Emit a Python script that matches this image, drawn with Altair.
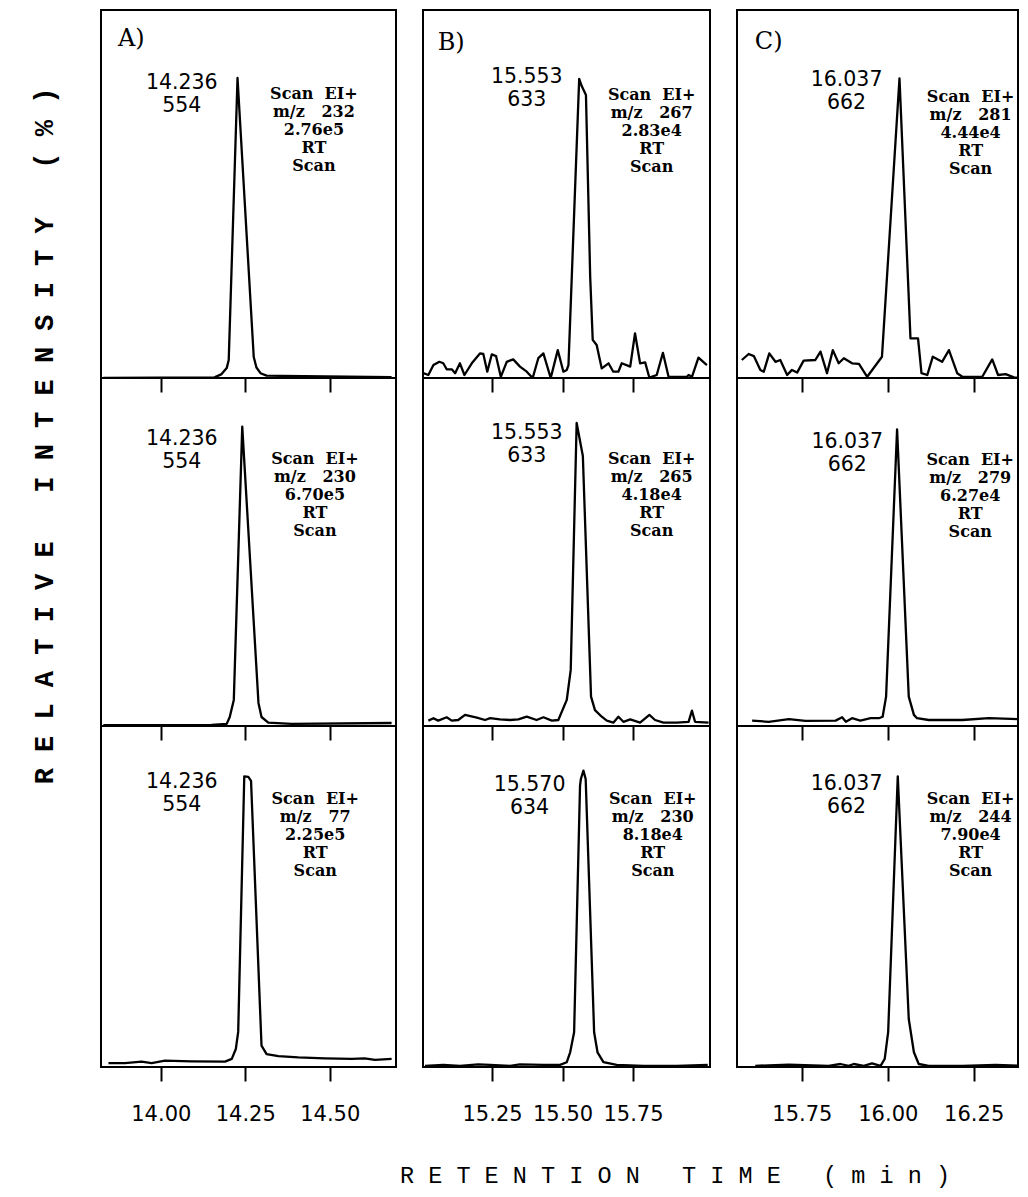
import altair as alt
import pandas as pd

# ---------------- data ----------------
COLUMNS = ["A", "B", "C"]
X_DOMAINS = [[13.823, 14.696], [15.005, 16.023], [15.561, 16.379]]
X_TICKS = [[14.00, 14.25, 14.50], [15.25, 15.50, 15.75], [15.75, 16.00, 16.25]]
PANEL_W = [295, 287, 281]
ROW_H = [368, 348, 341]
ROW_YMAX = [122.67, 116.0, 113.67]

A_top_rt = [13.830, 14.159, 14.180, 14.195, 14.201, 14.227, 14.275, 14.283, 14.295, 14.313, 14.358, 14.683]
A_top_int = [0.0, 0.2, 1.3, 3.3, 6.0, 100.0, 7.0, 3.5, 1.6, 0.8, 0.7, 0.3]
A_mid_rt = [13.830, 14.150, 14.195, 14.204, 14.216, 14.241, 14.289, 14.298, 14.318, 14.387, 14.683]
A_mid_int = [0.3, 0.4, 0.7, 3.0, 8.7, 99.8, 7.7, 3.0, 1.1, 0.7, 1.0]
A_bot_rt = [13.845, 13.894, 13.943, 13.973, 14.012, 14.091, 14.190, 14.210, 14.222, 14.229, 14.247,
            14.259, 14.267, 14.298, 14.313, 14.348, 14.407, 14.485, 14.565, 14.603, 14.634, 14.683]
A_bot_int = [1.3, 1.3, 1.8, 1.3, 2.1, 1.9, 1.8, 2.7, 6.0, 11.7, 96.9,
             96.7, 95.4, 7.1, 4.3, 3.6, 3.2, 2.9, 2.7, 2.9, 2.4, 2.7]

B_top_rt = [15.006, 15.024, 15.042, 15.063, 15.077, 15.089, 15.107, 15.119, 15.136, 15.152,
            15.178, 15.207, 15.219, 15.233, 15.249, 15.264, 15.281, 15.302, 15.325, 15.349,
            15.373, 15.394, 15.414, 15.432, 15.458, 15.483, 15.503, 15.515, 15.521, 15.559,
            15.568, 15.583, 15.598, 15.607, 15.621, 15.639, 15.663, 15.680, 15.698, 15.710,
            15.740, 15.757, 15.775, 15.793, 15.808, 15.834, 15.856, 15.876, 15.941, 15.947,
            15.959, 15.982, 16.012]
B_top_int = [1.6, 1.0, 4.3, 5.4, 4.9, 2.9, 2.9, 1.6, 4.9, 1.0,
             4.9, 8.2, 8.0, 2.1, 7.9, 7.3, 0.4, 5.4, 6.2, 3.8,
             2.1, 0.0, 6.6, 8.2, 0.0, 9.3, 2.1, 2.7, 4.3, 99.7,
             97.3, 94.3, 33.8, 12.7, 11.0, 3.2, 4.9, 2.1, 2.1, 4.9,
             3.8, 14.9, 4.9, 5.2, 0.1, 1.0, 8.4, 0.4, 0.4, 1.0,
             0.4, 6.8, 4.3]
B_mid_rt = [15.024, 15.042, 15.059, 15.089, 15.107, 15.130, 15.154, 15.196, 15.225, 15.243,
            15.278, 15.314, 15.343, 15.373, 15.408, 15.432, 15.462, 15.485, 15.515, 15.529,
            15.550, 15.572, 15.601, 15.615, 15.639, 15.657, 15.680, 15.698, 15.716, 15.740,
            15.775, 15.808, 15.828, 15.858, 15.905, 15.947, 15.959, 15.970, 16.018]
B_mid_int = [1.8, 2.6, 1.8, 2.9, 1.8, 2.0, 3.7, 2.8, 2.0, 2.6,
             2.2, 2.0, 2.2, 3.1, 2.0, 2.9, 1.8, 2.0, 8.7, 18.7,
             101.0, 90.0, 9.8, 5.3, 3.1, 1.8, 1.1, 3.1, 1.4, 2.2,
             1.1, 3.7, 2.0, 1.1, 1.1, 1.4, 5.1, 1.4, 1.1]
B_bot_rt = [15.012, 15.077, 15.136, 15.201, 15.243, 15.314, 15.349, 15.432, 15.491, 15.515,
            15.527, 15.541, 15.562, 15.565, 15.574, 15.582, 15.612, 15.624, 15.645, 15.692,
            15.787, 15.905, 16.015]
B_bot_int = [0.4, 0.7, 0.4, 0.9, 0.7, 0.4, 0.9, 0.7, 0.7, 1.6,
             4.9, 11.6, 93.8, 96.0, 98.8, 96.0, 11.6, 4.9, 1.6, 0.7,
             0.4, 0.4, 0.7]

C_top_rt = [15.575, 15.595, 15.610, 15.629, 15.639, 15.655, 15.673, 15.687, 15.707, 15.721,
            15.736, 15.755, 15.789, 15.804, 15.823, 15.840, 15.857, 15.872, 15.896, 15.916,
            15.940, 15.983, 16.034, 16.066, 16.088, 16.098, 16.115, 16.131, 16.158, 16.178,
            16.202, 16.217, 16.275, 16.304, 16.321, 16.343, 16.367, 16.398]
C_top_int = [6.0, 8.0, 7.3, 2.7, 2.1, 8.2, 5.4, 6.0, 1.0, 2.7,
             1.8, 5.8, 6.0, 8.8, 1.6, 9.3, 4.9, 6.6, 4.9, 4.7,
             0.4, 7.1, 99.9, 13.2, 13.2, 1.6, 1.0, 7.1, 5.4, 9.3,
             1.6, 0.4, 0.4, 6.2, 1.0, 1.3, 0.2, 0.0]
C_mid_rt = [15.605, 15.653, 15.712, 15.760, 15.848, 15.867, 15.878, 15.896, 15.920, 15.950,
            15.974, 15.985, 15.995, 16.027, 16.061, 16.076, 16.085, 16.119, 16.217, 16.294, 16.398]
C_mid_int = [1.8, 1.4, 2.3, 1.7, 1.8, 2.9, 1.4, 2.6, 1.8, 2.6,
             2.6, 3.1, 9.8, 98.9, 9.8, 3.7, 2.6, 2.0, 2.0, 2.6, 2.2]
C_bot_rt = [15.614, 15.712, 15.828, 15.862, 15.886, 15.901, 15.930, 15.954, 15.979, 15.991,
            16.001, 16.029, 16.061, 16.076, 16.090, 16.119, 16.217, 16.314, 16.398]
C_bot_int = [0.4, 0.8, 0.4, 1.0, 0.4, 1.0, 0.4, 1.2, 0.4, 2.7,
             11.6, 96.9, 16.0, 4.9, 1.0, 0.4, 0.4, 0.7, 0.4]

SERIES = [
    [(A_top_rt, A_top_int), (A_mid_rt, A_mid_int), (A_bot_rt, A_bot_int)],
    [(B_top_rt, B_top_int), (B_mid_rt, B_mid_int), (B_bot_rt, B_bot_int)],
    [(C_top_rt, C_top_int), (C_mid_rt, C_mid_int), (C_bot_rt, C_bot_int)],
]

# peak annotation (retention time / scan number); y = centre of first line
PEAK_LABELS = [["14.236\n554", "14.236\n554", "14.236\n554"],
               ["15.553\n633", "15.553\n633", "15.570\n634"],
               ["16.037\n662", "16.037\n662", "16.037\n662"]]
PEAK_LABEL_X = [[14.062, 14.062, 14.062], [15.373, 15.373, 15.383], [15.880, 15.882, 15.880]]
PEAK_LABEL_Y = [[98.3, 95.6, 94.9], [100.2, 97.8, 94.0], [99.3, 94.8, 94.3]]

# acquisition block; y = centre of first line
SCAN_MZ = [["232", "230", "77"], ["267", "265", "230"], ["281", "279", "244"]]
SCAN_TIC = [["2.76e5", "6.70e5", "2.25e5"], ["2.83e4", "4.18e4", "8.18e4"], ["4.44e4", "6.27e4", "7.90e4"]]
SCAN_X = [[14.453, 14.456, 14.457], [15.816, 15.816, 15.820], [16.241, 16.240, 16.241]]
SCAN_Y = [[94.7, 88.9, 89.3], [94.3, 88.9, 89.3], [93.8, 88.7, 89.3]]

LETTERS = ["A)", "B)", "C)"]
LETTER_X = [13.873, 15.057, 15.613]
LETTER_Y = [113.0, 111.7, 112.0]

NB = "\u00a0"
Y_TITLE = (NB * 3).join(NB.join(w) for w in ["RELATIVE", "INTENSITY", "(%)"])
X_TITLE = (NB * 3).join(NB.join(w) for w in ["RETENTION", "TIME", "(min)"])


def panel(c, r):
    rt, inten = SERIES[c][r]
    xscale = alt.Scale(domain=X_DOMAINS[c], nice=False, zero=False)
    yscale = alt.Scale(domain=[0, ROW_YMAX[r]], nice=False, zero=False)
    xaxis = alt.Axis(values=X_TICKS[c], format=".2f", labels=(r == 2), title=None)
    x = alt.X("rt:Q", scale=xscale, axis=xaxis)
    y = alt.Y("intensity:Q", scale=yscale, axis=None)

    line = alt.Chart(pd.DataFrame({"rt": rt, "intensity": inten})).mark_line(
        color="black", strokeWidth=2.3, strokeJoin="round", clip=True
    ).encode(x=x, y=y)

    peak_df = pd.DataFrame({"rt": [PEAK_LABEL_X[c][r]], "intensity": [PEAK_LABEL_Y[c][r]],
                            "label": [PEAK_LABELS[c][r]]})
    peak = alt.Chart(peak_df).mark_text(
        font="DejaVu Sans", fontSize=20.5, lineBreak="\n", lineHeight=23,
        align="center", baseline="middle", color="black"
    ).encode(x=x, y=y, text="label:N")

    scan_txt = "\n".join(["Scan" + NB + NB + "EI+", "m/z" + NB * 3 + SCAN_MZ[c][r],
                          SCAN_TIC[c][r], "RT", "Scan"])
    scan_df = pd.DataFrame({"rt": [SCAN_X[c][r]], "intensity": [SCAN_Y[c][r]], "label": [scan_txt]})
    scan = alt.Chart(scan_df).mark_text(
        font="DejaVu Serif", fontSize=16, fontWeight="bold", lineBreak="\n", lineHeight=18,
        align="center", baseline="middle", color="black"
    ).encode(x=x, y=y, text="label:N")

    layers = [line, peak, scan]
    if r == 0:
        let_df = pd.DataFrame({"rt": [LETTER_X[c]], "intensity": [LETTER_Y[c]], "label": [LETTERS[c]]})
        layers.append(alt.Chart(let_df).mark_text(
            font="DejaVu Serif", fontSize=24, align="left", baseline="middle", color="black"
        ).encode(x=x, y=y, text="label:N"))
    return alt.layer(*layers).properties(width=PANEL_W[c], height=ROW_H[r])


columns = [alt.vconcat(*[panel(c, r) for r in range(3)], spacing=0, bounds="flush") for c in range(3)]

ytitle = alt.Chart(pd.DataFrame({"label": [Y_TITLE]})).mark_text(
    font="Liberation Mono", fontSize=27, fontWeight="bold", angle=270,
    align="center", baseline="middle", color="black"
).encode(x=alt.value(37), y=alt.value(426), text="label:N").properties(
    width=67, height=sum(ROW_H), view=alt.ViewBackground(strokeOpacity=0)
)

grid = alt.hconcat(ytitle, *columns, spacing=25)

xtitle = alt.Chart(pd.DataFrame({"label": [X_TITLE]})).mark_text(
    font="Liberation Mono", fontSize=23.5, align="center", baseline="middle", color="black"
).encode(x=alt.value(667), y=alt.value(1165.5), text="label:N").properties(
    width=1, height=1, view=alt.ViewBackground(strokeOpacity=0)
)

chart = alt.vconcat(grid, xtitle, spacing=0, bounds="flush").properties(
    padding={"left": 0, "top": 1, "right": 0, "bottom": 1}
).configure_view(
    stroke="black", strokeWidth=2
).configure_axis(
    labelFont="DejaVu Sans", labelFontSize=21, labelColor="black", labelPadding=22,
    tickColor="black", tickWidth=2, tickSize=14, domain=False, grid=False
)

chart.save("out.html", embed_options={"renderer": "svg", "actions": False})
